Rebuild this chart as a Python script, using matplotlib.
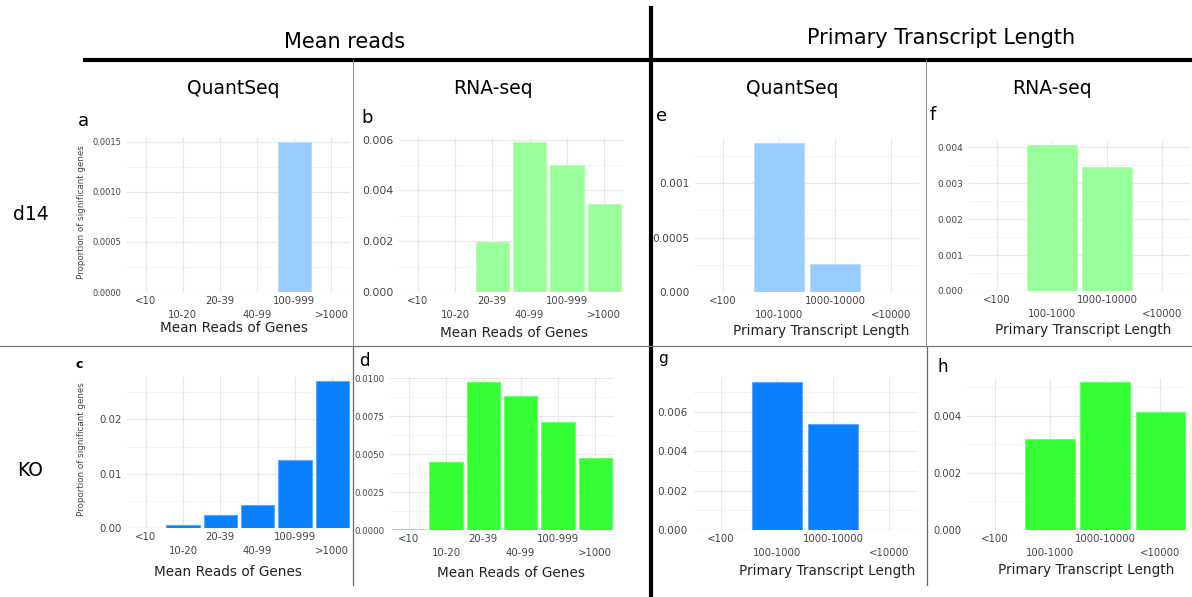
import matplotlib
matplotlib.use("Agg")
import matplotlib.pyplot as plt
from matplotlib.lines import Line2D
from matplotlib.ticker import MultipleLocator

W, H = 1192, 597

# bins on the x axes
reads_bins = ["<10", "10-20", "20-39", "40-99", "100-999", ">1000"]
length_bins = ["<100", "100-1000", "1000-10000", "<10000"]

# proportion of significant genes per bin
quant_d14_reads = [0, 0, 0, 0, 0.0015, 0]
rnaseq_d14_reads = [0, 0, 0.00196, 0.00592, 0.0050, 0.00347]
quant_ko_reads = [0, 0.0006, 0.00236, 0.00418, 0.01248, 0.02715]
rnaseq_ko_reads = [0.00007, 0.00448, 0.00972, 0.0088, 0.00712, 0.00476]
quant_d14_length = [0, 0.00137, 0.000257, 0]
rnaseq_d14_length = [0, 0.00407, 0.00345, 0]
quant_ko_length = [0, 0.00751, 0.00535, 0]
rnaseq_ko_length = [0, 0.00319, 0.0052, 0.00415]

light_blue, light_green = "#99ccff", "#99ff99"
blue, green = "#0a80ff", "#33ff33"

fig = plt.figure(figsize=(W / 100, H / 100), dpi=100)


def fx(x):
    return x / W


def fy(y):
    return 1 - y / H


def px_rect(left, top, right, bottom):
    return [fx(left), fy(bottom), (right - left) / W, (bottom - top) / H]


def hline(x0, x1, y, lw, color="black"):
    fig.add_artist(Line2D([fx(x0), fx(x1)], [fy(y), fy(y)], lw=lw, color=color,
                          transform=fig.transFigure))


def vline(x, y0, y1, lw, color="black"):
    fig.add_artist(Line2D([fx(x), fx(x)], [fy(y0), fy(y1)], lw=lw, color=color,
                          transform=fig.transFigure))


def draw_panel(rect, cats, vals, color, edge, step, fmt, ysize, xlabel, label_pos,
               letter, letter_pos, letter_size=13, letter_weight="normal",
               yticklabels=None, ylabel=False, ytop=None):
    ax = fig.add_axes(px_rect(*rect))
    xs = list(range(len(cats)))
    ax.bar(xs, vals, width=0.9, color=color, edgecolor=edge, linewidth=0.8, zorder=2)
    if ytop is None:
        ytop = max(vals) * 1.025
    ax.set_xlim(-0.5, len(cats) - 0.5)
    ax.set_ylim(0, ytop)
    ax.set_xticks(xs)
    ax.set_xticklabels(cats, fontsize=7.3, color="#444444")
    ax.yaxis.set_major_locator(MultipleLocator(step))
    ax.yaxis.set_minor_locator(MultipleLocator(step / 2))
    ticks = [t for t in ax.get_yticks() if -1e-12 <= t <= ytop + 1e-12]
    ax.set_yticks(ticks)
    if yticklabels is None:
        yticklabels = [fmt.format(t) for t in ticks]
    ax.set_yticklabels(yticklabels, fontsize=ysize, color="#444444")
    ax.tick_params(which="both", length=0)
    ax.tick_params(axis="y", pad=4)
    # staggered bin labels: every second one sits on a lower row
    for i, t in enumerate(ax.xaxis.get_major_ticks()):
        t.set_pad(3 if i % 2 == 0 else 13)
    ax.grid(which="major", color="#e8e8e8", lw=0.8, zorder=0)
    ax.grid(which="minor", axis="y", color="#f4f4f4", lw=0.7, zorder=0)
    ax.set_axisbelow(True)
    for s in ax.spines.values():
        s.set_visible(False)
    ax.set_xlabel(xlabel, fontsize=9.8, color="#222222", va="center")
    ax.xaxis.set_label_coords(fx(label_pos[0]), fy(label_pos[1]), transform=fig.transFigure)
    if ylabel:
        fig.text(fx(82), fy((rect[1] + rect[3]) / 2 - 3), "Proportion of significant genes",
                 rotation=90, fontsize=6.3, color="#444444", ha="center", va="center")
    fig.text(fx(letter_pos[0]), fy(letter_pos[1]), letter, fontsize=letter_size,
             fontweight=letter_weight, ha="center", va="center")
    return ax


# row d14
draw_panel((127, 138, 350, 292), reads_bins, quant_d14_reads, light_blue, "#b8dcff",
           0.0005, "{:.4f}", 6.0, "Mean Reads of Genes", (234, 328), "a", (83, 121),
           ylabel=True)
draw_panel((399, 138, 623, 292), reads_bins, rnaseq_d14_reads, light_green, "#b5ffb5",
           0.002, "{:.3f}", 7.8, "Mean Reads of Genes", (514, 333), "b", (367, 118))
draw_panel((695, 139, 919, 292), length_bins, quant_d14_length, light_blue, "#b8dcff",
           0.0005, "{:.4f}", 7.6, "Primary Transcript Length", (821, 331), "e", (662, 116),
           yticklabels=["0.000", "0.0005", "0.001"])
draw_panel((969, 141, 1190, 291), length_bins, rnaseq_d14_length, light_green, "#b5ffb5",
           0.001, "{:.3f}", 6.5, "Primary Transcript Length", (1083, 330), "f", (933, 115))

# row KO
draw_panel((127, 377, 351, 528), reads_bins, quant_ko_reads, blue, "#5aa8ff",
           0.01, "{:.2f}", 7.3, "Mean Reads of Genes", (228, 572), "c", (79, 364),
           letter_size=9, letter_weight="bold", ylabel=True)
draw_panel((390, 378, 614, 530), reads_bins, rnaseq_ko_reads, green, "#70ff70",
           0.0025, "{:.4f}", 6.2, "Mean Reads of Genes", (511, 573), "d", (364, 361),
           letter_size=12, ytop=0.0100)
draw_panel((693, 378, 917, 530), length_bins, quant_ko_length, blue, "#5aa8ff",
           0.002, "{:.3f}", 7.6, "Primary Transcript Length", (827, 571), "g", (663, 359),
           letter_size=11)
draw_panel((967, 378, 1188, 530), length_bins, rnaseq_ko_length, green, "#70ff70",
           0.002, "{:.3f}", 7.1, "Primary Transcript Length", (1086, 570), "h", (943, 367),
           letter_size=12)

# section headers
fig.text(fx(345), fy(42), "Mean reads", fontsize=15, ha="center", va="center")
fig.text(fx(941), fy(38), "Primary Transcript Length", fontsize=15, ha="center", va="center")
for x, name in [(233, "QuantSeq"), (493, "RNA-seq"), (792, "QuantSeq"), (1052, "RNA-seq")]:
    fig.text(fx(x), fy(88), name, fontsize=13.5, ha="center", va="center")
fig.text(fx(31), fy(215), "d14", fontsize=13.5, ha="center", va="center")
fig.text(fx(30), fy(470), "KO", fontsize=13.5, ha="center", va="center")

# divider lines
hline(85, 1192, 60, 3)
vline(651, 8, 597, 3)
hline(0, 1192, 346, 0.9, "#777777")
vline(353, 60, 345, 0.7, "#888888")
vline(353, 347, 585, 0.9, "#666666")
vline(926, 60, 345, 0.7, "#888888")
vline(927, 347, 585, 0.9, "#666666")

fig.savefig("out.png", dpi=100)
